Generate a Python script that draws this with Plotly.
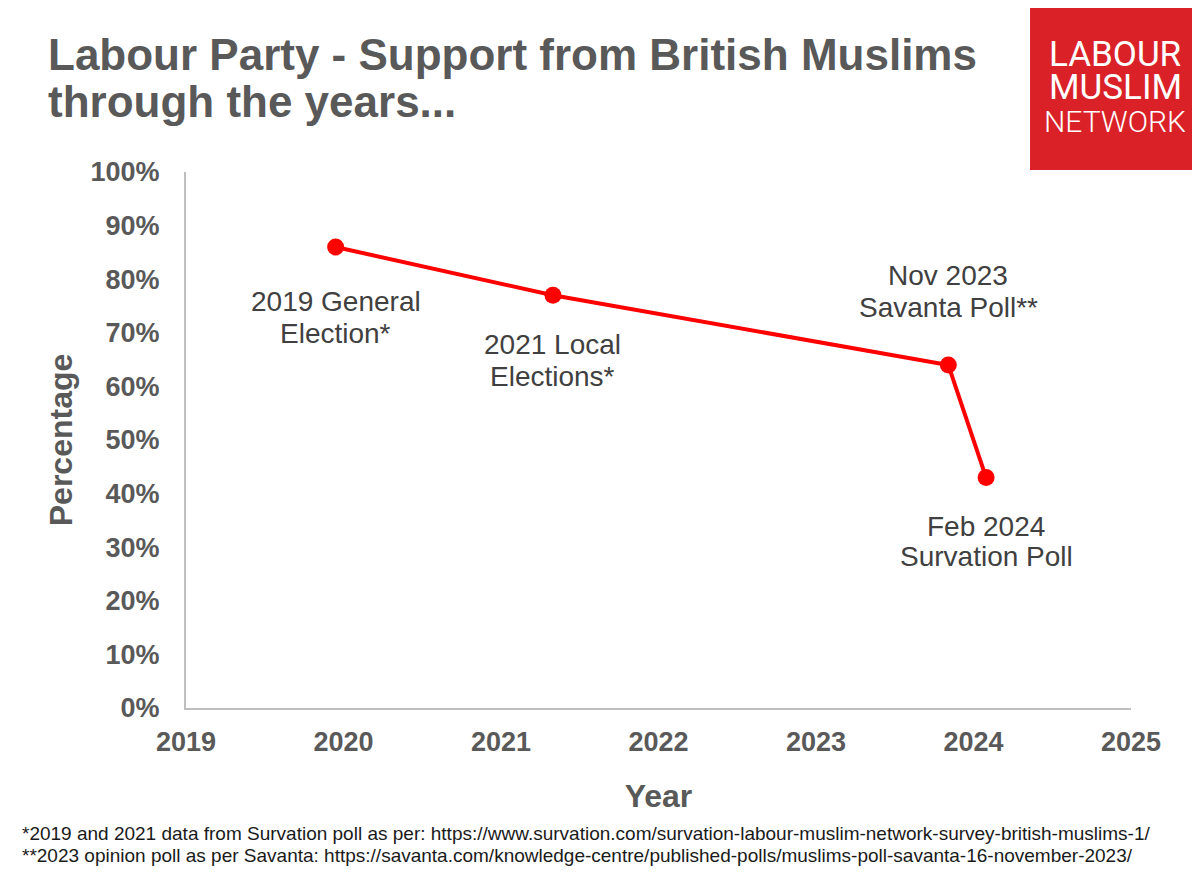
import plotly.graph_objects as go

# ---- data ----
years = [2019.95, 2021.33, 2023.84, 2024.08]
support = [86, 77, 64, 43]
label_line1 = ["2019 General", "2021 Local", "Nov 2023", "Feb 2024"]
label_line2 = ["Election*", "Elections*", "Savanta Poll**", "Survation Poll"]
label_shift1 = [-54, -49, 89, -49]   # pixel shifts (negative = below)
label_shift2 = [-86, -81, 57, -79]
x_ticks = [2019, 2020, 2021, 2022, 2023, 2024, 2025]
y_ticks = [0, 10, 20, 30, 40, 50, 60, 70, 80, 90, 100]
y_tick_text = [f"{v}%" for v in y_ticks]

title_lines = ["Labour Party - Support from British Muslims", "through the years..."]
footnotes = [
    "*2019 and 2021 data from Survation poll as per: https://www.survation.com/survation-labour-muslim-network-survey-british-muslims-1/",
    "**2023 opinion poll as per Savanta: https://savanta.com/knowledge-centre/published-polls/muslims-poll-savanta-16-november-2023/",
]
logo_lines = ["LABOUR", "MUSLIM", "NETWORK"]

OFF = 8  # page body margin
W, H = 1200 - OFF, 891 - 2 * OFF
ML, MR, MT, MB = 186 - OFF, 69, 172 - OFF, 183 - OFF

fig = go.Figure()
fig.add_trace(go.Scatter(
    x=years, y=support, mode="lines+markers",
    line=dict(color="#FF0000", width=4),
    marker=dict(color="#FF0000", size=17),
    hoverinfo="skip", showlegend=False,
))

annotations = []
for x, y, t1, t2, s1, s2 in zip(years, support, label_line1, label_line2, label_shift1, label_shift2):
    for t, s in ((t1, s1), (t2, s2)):
        annotations.append(dict(
            x=x, y=y, xref="x", yref="y", text=t, showarrow=False,
            yshift=s, xanchor="center", yanchor="middle",
            font=dict(family="Liberation Sans, Arial", size=28, color="#404040"),
        ))

def px_to_paper_y(py):
    return 1 - (py - OFF - MT) / (H - MT - MB)

def px_to_paper_x(px):
    return (px - OFF - ML) / (W - ML - MR)

# title lines
for t, py in zip(title_lines, [54, 101]):
    annotations.append(dict(
        x=px_to_paper_x(46), y=px_to_paper_y(py), xref="paper", yref="paper",
        text=f"<b>{t}</b>", showarrow=False, xanchor="left", yanchor="middle",
        font=dict(family="Liberation Sans, Arial", size=44, color="#595959"),
    ))

# footnotes
for t, py in zip(footnotes, [833, 855]):
    annotations.append(dict(
        x=px_to_paper_x(20), y=px_to_paper_y(py), xref="paper", yref="paper",
        text=t, showarrow=False, xanchor="left", yanchor="middle",
        font=dict(family="Liberation Sans, Arial", size=19, color="#1a1a1a"),
    ))

# logo text
for t, py, wgt, sz in zip(logo_lines, [54, 87, 122], [400, 400, 300], [35, 35, 30]):
    annotations.append(dict(
        x=px_to_paper_x(1115), y=px_to_paper_y(py), xref="paper", yref="paper",
        text=t, showarrow=False, xanchor="center", yanchor="middle",
        font=dict(family="Roboto, Liberation Sans", size=sz, color="#FFFFFF", weight=wgt),
    ))

fig.update_layout(
    width=W, height=H,
    margin=dict(l=ML, r=MR, t=MT, b=MB),
    paper_bgcolor="white", plot_bgcolor="white",
    annotations=annotations,
    shapes=[dict(type="rect", xref="paper", yref="paper",
                 x0=px_to_paper_x(1030), x1=px_to_paper_x(1210),
                 y0=px_to_paper_y(170), y1=px_to_paper_y(-5),
                 fillcolor="#DA2128", line=dict(width=0), layer="above")],
    xaxis=dict(
        range=[2019, 2025], tickvals=x_ticks, ticktext=[str(v) for v in x_ticks],
        showgrid=False, zeroline=False, showline=True, linecolor="#BFBFBF", linewidth=2,
        ticks="", ticklabelstandoff=9,
        tickfont=dict(family="Liberation Sans, Arial", size=27, color="#595959", weight="bold"),
        title=dict(text="<b>Year</b>", font=dict(family="Liberation Sans, Arial", size=32, color="#595959"), standoff=28),
        fixedrange=True,
    ),
    yaxis=dict(
        range=[0, 100], tickvals=y_ticks, ticktext=y_tick_text,
        showgrid=False, zeroline=False, showline=True, linecolor="#BFBFBF", linewidth=2,
        ticks="", ticklabelstandoff=19,
        tickfont=dict(family="Liberation Sans, Arial", size=27, color="#595959", weight="bold"),
        title=dict(text="<b>Percentage</b>", font=dict(family="Liberation Sans, Arial", size=32, color="#595959"), standoff=8),
        fixedrange=True,
    ),
)

fig.write_html("out.html")
